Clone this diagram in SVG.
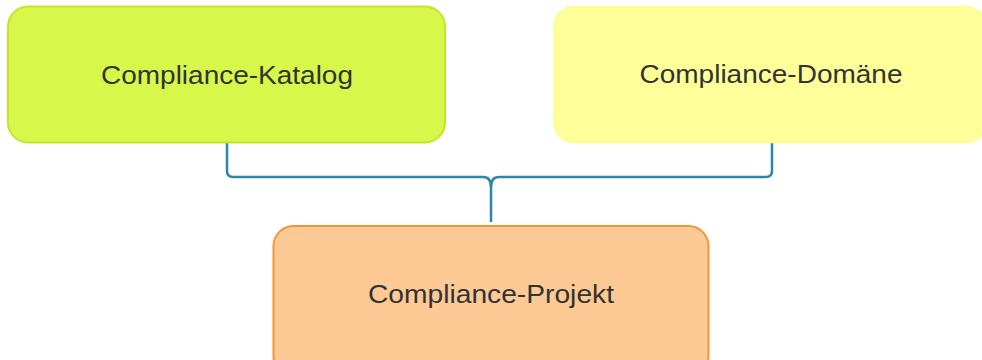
<svg xmlns="http://www.w3.org/2000/svg" width="982" height="360" viewBox="0 0 982 360">
<style>
.lbl{font-family:"Liberation Sans",Arial,sans-serif;font-size:26px;fill:#333;text-anchor:middle}
.conn{fill:none;stroke:#2C86A6;stroke-width:2.5;stroke-linejoin:round}
</style>
<rect width="982" height="360" fill="#fff"/>
<g id="connectors">
<path class="conn" d="M227,142 V171 Q227,177 233,177 H483 Q491,177 491,187 V222"/>
<path class="conn" d="M772,142 V171 Q772,177 766,177 H499 Q491,177 491,187"/>
</g>
<g id="katalog">
<rect x="8" y="6.5" width="437" height="136" rx="20" fill="#D7F74A" stroke="#C2E526" stroke-width="2"/>
<text class="lbl" x="227" y="84" textLength="252" lengthAdjust="spacingAndGlyphs">Compliance-Katalog</text>
</g>
<g id="domaene">
<rect x="554" y="6.5" width="432" height="136" rx="20" fill="#FFFF99" stroke="#FCFC90" stroke-width="1.5"/>
<text class="lbl" x="771" y="83" textLength="263" lengthAdjust="spacingAndGlyphs">Compliance-Domäne</text>
</g>
<g id="projekt">
<rect x="273.5" y="226" width="435" height="150" rx="20" fill="#FDCA96" stroke="#F59434" stroke-width="2"/>
<text class="lbl" x="491" y="303" textLength="246" lengthAdjust="spacingAndGlyphs">Compliance-Projekt</text>
</g>
</svg>
